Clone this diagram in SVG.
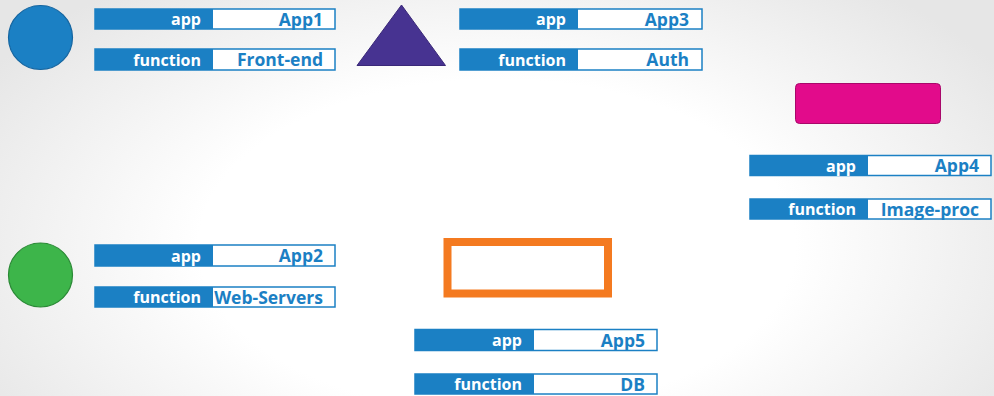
<svg xmlns="http://www.w3.org/2000/svg" width="994" height="396" viewBox="0 0 994 396">
<defs>
<radialGradient id="bg" cx="0.5" cy="0.62" r="0.6" gradientTransform="translate(0.5 0.62) scale(1 1.4) translate(-0.5 -0.62)">
<stop offset="0" stop-color="#ffffff"/>
<stop offset="0.5" stop-color="#ffffff"/>
<stop offset="1" stop-color="#e6e6e6"/>
</radialGradient>
<style>
.k{fill:#1b80c4}
.v{fill:#ffffff}
.o{fill:none;stroke:#1b80c4;stroke-width:1.5}
text{font-family:"Open Sans","DejaVu Sans",sans-serif;font-weight:bold;font-size:16px;text-anchor:end}
.kt{fill:#ffffff}
.vt{fill:#1b80c4;font-size:17.5px}
</style>
</defs>
<rect width="994" height="396" fill="url(#bg)"/>

<g id="node-app1">
<circle cx="40.5" cy="37.5" r="32" fill="#1b80c4" stroke="#1565a0" stroke-width="1.2"/>
</g>
<g id="label-app1">
<rect class="v" x="95" y="9" width="240" height="20"/><rect class="k" x="95" y="9" width="118" height="20"/><rect class="o" x="95" y="9" width="240" height="20"/>
<text class="kt" x="201" y="25">app</text><text class="vt" x="323" y="25.5">App1</text>
<rect class="v" x="95" y="49" width="240" height="21"/><rect class="k" x="95" y="49" width="118" height="21"/><rect class="o" x="95" y="49" width="240" height="21"/>
<text class="kt" x="201" y="65.5">function</text><text class="vt" x="323" y="66">Front-end</text>
</g>

<g id="node-app3">
<polygon points="401.5,5 445.5,65.5 357,65.5" fill="#473391" stroke="#3a2878" stroke-width="1"/>
</g>
<g id="label-app3">
<rect class="v" x="460" y="9" width="242" height="20"/><rect class="k" x="460" y="9" width="118" height="20"/><rect class="o" x="460" y="9" width="242" height="20"/>
<text class="kt" x="566" y="25">app</text><text class="vt" x="689" y="25.5">App3</text>
<rect class="v" x="460" y="49" width="242" height="21"/><rect class="k" x="460" y="49" width="118" height="21"/><rect class="o" x="460" y="49" width="242" height="21"/>
<text class="kt" x="566" y="65.5">function</text><text class="vt" x="689" y="66">Auth</text>
</g>

<g id="node-app4">
<rect x="795.5" y="83.5" width="145" height="40" rx="4" fill="#e20b8b" stroke="#a8086a" stroke-width="1"/>
</g>
<g id="label-app4">
<rect class="v" x="750" y="155.5" width="241" height="20"/><rect class="k" x="750" y="155.5" width="118" height="20"/><rect class="o" x="750" y="155.5" width="241" height="20"/>
<text class="kt" x="856" y="171.5">app</text><text class="vt" x="979" y="172">App4</text>
<rect class="v" x="750" y="199" width="241" height="20"/><rect class="k" x="750" y="199" width="118" height="20"/><rect class="o" x="750" y="199" width="241" height="20"/>
<text class="kt" x="856" y="215">function</text><text class="vt" x="979" y="215.5">Image-proc</text>
</g>

<g id="node-app2">
<circle cx="40.5" cy="275" r="32" fill="#3db54a" stroke="#2b8a36" stroke-width="1.2"/>
</g>
<g id="label-app2">
<rect class="v" x="95" y="245" width="240" height="21"/><rect class="k" x="95" y="245" width="118" height="21"/><rect class="o" x="95" y="245" width="240" height="21"/>
<text class="kt" x="201" y="261.5">app</text><text class="vt" x="323" y="262">App2</text>
<rect class="v" x="95" y="287" width="240" height="20"/><rect class="k" x="95" y="287" width="118" height="20"/><rect class="o" x="95" y="287" width="240" height="20"/>
<text class="kt" x="201" y="303">function</text><text class="vt" x="323" y="303.5">Web-Servers</text>
</g>

<g id="node-app5">
<rect x="447.5" y="242" width="160.5" height="51.5" fill="#ffffff" stroke="#f47a20" stroke-width="8"/>
</g>
<g id="label-app5">
<rect class="v" x="415" y="329.5" width="242" height="21"/><rect class="k" x="415" y="329.5" width="119" height="21"/><rect class="o" x="415" y="329.5" width="242" height="21"/>
<text class="kt" x="522" y="346">app</text><text class="vt" x="645" y="346.5">App5</text>
<rect class="v" x="415" y="374" width="242" height="20"/><rect class="k" x="415" y="374" width="119" height="20"/><rect class="o" x="415" y="374" width="242" height="20"/>
<text class="kt" x="522" y="390">function</text><text class="vt" x="645" y="390.5">DB</text>
</g>

<g id="connectors"/>
</svg>
